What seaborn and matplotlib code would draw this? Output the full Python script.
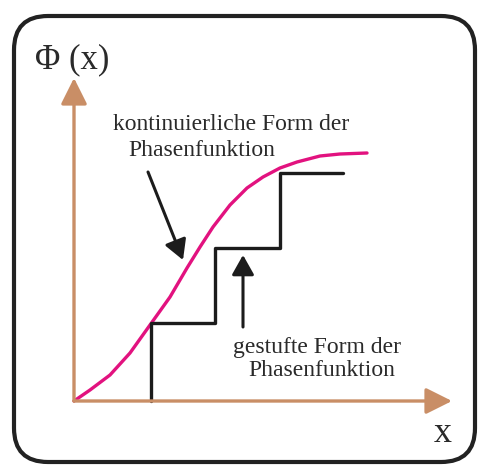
import pandas as pd
import matplotlib.pyplot as plt
import seaborn as sns
from matplotlib.patches import FancyBboxPatch

# continuous phase function (1 unit = 10 px)
curve_x = [0, 1.6, 3.6, 5.6, 7.6, 9.6, 11.3, 12.6, 13.9, 15.6, 17.3, 18.9, 20.6, 22.3, 24.6, 26.6, 29.3]
curve_y = [0, 1.1, 2.6, 4.8, 7.6, 10.4, 13.3, 15.4, 17.4, 19.6, 21.3, 22.4, 23.3, 23.9, 24.5, 24.7, 24.8]

# stepped phase function
step_x = [7.7, 7.7, 14.1, 20.6, 26.9]
step_y = [0, 7.8, 15.3, 22.8, 22.8]

label_cont = ['kontinuierliche Form der', 'Phasenfunktion']
label_step = ['gestufte Form der', 'Phasenfunktion']

sns.set_theme(style='white')
plt.rcParams['font.family'] = ['Liberation Serif', 'DejaVu Serif']

axis_color = '#c98e66'
curve_color = '#e2127f'
ink = '#1c1c1c'
text_color = '#2a2a2a'

fig = plt.figure(figsize=(4.78, 4.65), dpi=100)
ax = fig.add_axes([0, 0, 1, 1])
ax.set_xlim(-7.4, 40.4)
ax.set_ylim(-6.4, 40.1)
ax.axis('off')

# rounded frame
frame = FancyBboxPatch((-6.0, -6.1), 46.1, 44.6, boxstyle='round,pad=0,rounding_size=3.4',
                       fc='none', ec='#222222', lw=3, clip_on=False)
ax.add_patch(frame)

# axes arrows
arrow_axis = dict(arrowstyle='-|>,head_length=0.8,head_width=0.4', mutation_scale=20,
                  color=axis_color, lw=2.4, shrinkA=0, shrinkB=0)
ax.annotate('', xy=(0, 32.3), xytext=(0, 0), arrowprops=arrow_axis)
ax.annotate('', xy=(37.8, 0), xytext=(0, 0), arrowprops=arrow_axis)

ax.text(-0.2, 34.1, '\u03a6 (x)', fontsize=25, color=text_color, ha='center', va='center')
ax.text(36.9, -3.2, 'x', fontsize=26, color=text_color, ha='center', va='center')

# curves
df_curve = pd.DataFrame({'x': curve_x, 'y': curve_y})
df_step = pd.DataFrame({'x': step_x, 'y': step_y})
sns.lineplot(data=df_curve, x='x', y='y', ax=ax, color=curve_color, lw=2.4,
             sort=False, estimator=None)
sns.lineplot(data=df_step, x='x', y='y', ax=ax, color=ink, lw=2.4,
             sort=False, estimator=None, drawstyle='steps-post')

# annotations
arrow_black = dict(arrowstyle='-|>,head_length=0.8,head_width=0.45', mutation_scale=15,
                   color=ink, lw=2.2, shrinkA=0, shrinkB=0)
ax.annotate('', xy=(10.9, 14.1), xytext=(7.4, 22.9), arrowprops=arrow_black)
ax.annotate('', xy=(16.9, 14.6), xytext=(16.9, 7.4), arrowprops=arrow_black)

ax.text(3.9, 27.6, label_cont[0], fontsize=17, color=text_color, ha='left', va='center')
ax.text(5.4, 25.1, label_cont[1], fontsize=17, color=text_color, ha='left', va='center')
ax.text(15.9, 5.4, label_step[0], fontsize=17, color=text_color, ha='left', va='center')
ax.text(17.4, 3.1, label_step[1], fontsize=17, color=text_color, ha='left', va='center')

plt.savefig('out.png', dpi=100)
plt.close()
